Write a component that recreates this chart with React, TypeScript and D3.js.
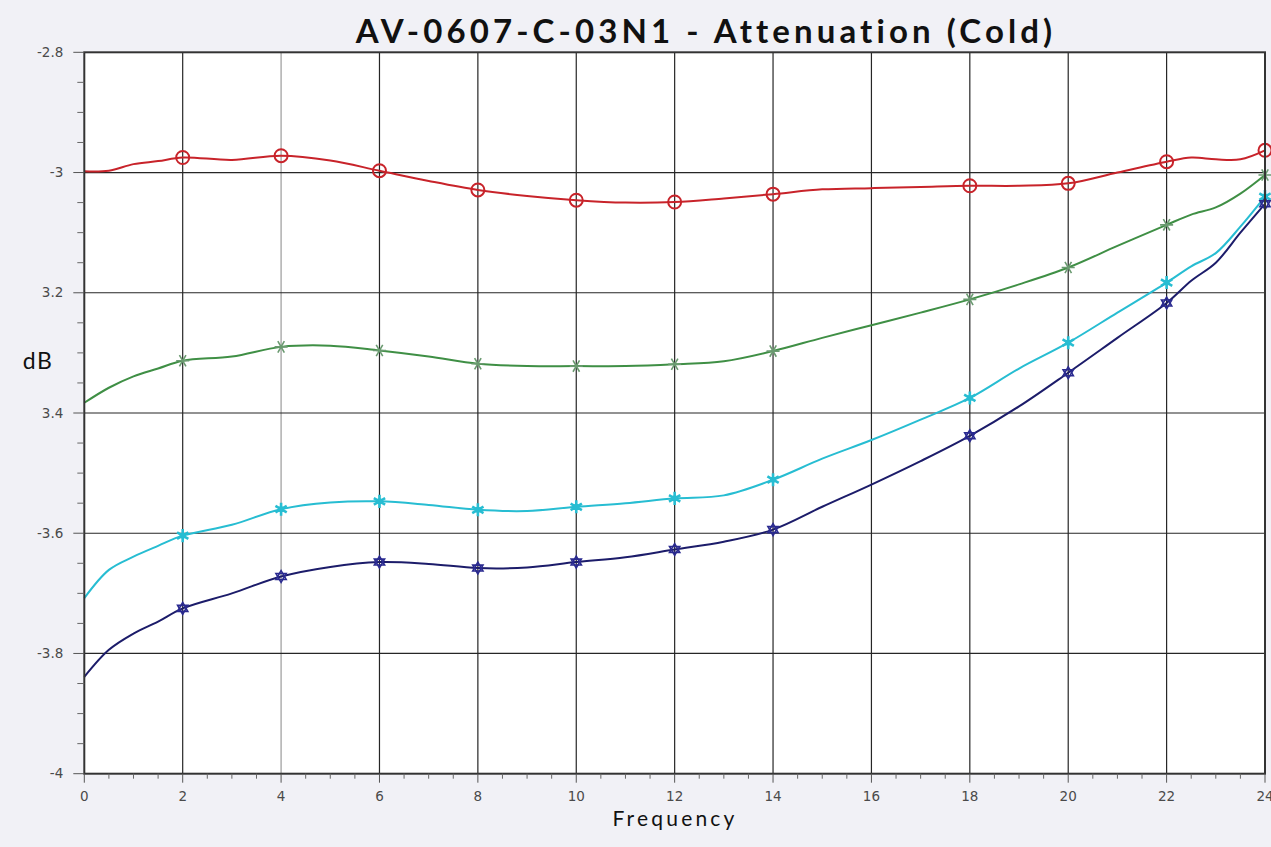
import React from "react";
import * as d3 from "d3";

// Frequency sample points shared by every trace
const freqs = [0, 0.5, 1, 1.5, 2, 3, 4, 5, 6, 7, 8, 9, 10, 11, 12, 13, 14, 15, 16, 17, 18, 19, 20, 21, 22, 22.5, 23, 23.5, 24];

const redValues = [-2.998, -2.997, -2.986, -2.981, -2.975, -2.979, -2.972, -2.98, -2.997, -3.014, -3.029, -3.039, -3.046, -3.05, -3.049, -3.043, -3.036, -3.028, -3.026, -3.024, -3.022, -3.022, -3.018, -3.0, -2.982, -2.975, -2.978, -2.978, -2.963];
const greenValues = [-3.383, -3.358, -3.339, -3.326, -3.313, -3.306, -3.29, -3.288, -3.296, -3.306, -3.318, -3.322, -3.322, -3.322, -3.319, -3.314, -3.297, -3.275, -3.254, -3.233, -3.211, -3.186, -3.158, -3.122, -3.087, -3.07, -3.058, -3.035, -3.004];
const cyanValues = [-3.708, -3.661, -3.639, -3.621, -3.604, -3.586, -3.56, -3.549, -3.547, -3.553, -3.561, -3.563, -3.556, -3.55, -3.542, -3.537, -3.511, -3.476, -3.445, -3.411, -3.375, -3.326, -3.283, -3.233, -3.183, -3.156, -3.134, -3.09, -3.04];
const navyValues = [-3.839, -3.794, -3.767, -3.747, -3.725, -3.7, -3.672, -3.656, -3.648, -3.651, -3.658, -3.657, -3.648, -3.64, -3.627, -3.614, -3.594, -3.556, -3.519, -3.48, -3.438, -3.389, -3.333, -3.275, -3.217, -3.18, -3.15, -3.1, -3.052];

// Frequencies that carry a marker
const markerFreqs = [2, 4, 6, 8, 10, 12, 14, 18, 20, 22, 24];

const xTicks = [0, 2, 4, 6, 8, 10, 12, 14, 16, 18, 20, 22, 24];
const yTicks = [-2.8, -3, -3.2, -3.4, -3.6, -3.8, -4];
const yTickLabels = ["-2.8", "-3", "3.2", "3.4", "-3.6", "-3.8", "-4"];
const lightGridFreqs = [4];

const title = "AV-0607-C-03N1 - Attenuation (Cold)";
const xTitle = "Frequency";
const yTitle = "dB";

const W = 1271;
const H = 847;
const plot = { left: 84.3, right: 1265, top: 52.3, bottom: 773.7 };

type Series = { name: string; values: number[]; color: string; marker: string };

const series: Series[] = [
  { name: "red", values: redValues, color: "#c8232a", marker: "circle" },
  { name: "green", values: greenValues, color: "#3f8f45", marker: "asterisk" },
  { name: "cyan", values: cyanValues, color: "#27bdd2", marker: "star" },
  { name: "navy", values: navyValues, color: "#1c1c6a", marker: "david" },
];

function Marker({ kind, x, y, color }: { kind: string; x: number; y: number; color: string }) {
  if (kind === "circle") {
    return <circle cx={x} cy={y} r={6.5} fill="none" stroke={color} strokeWidth={2} />;
  }
  if (kind === "asterisk") {
    const p = d3.symbol(d3.symbolAsterisk, 120)()!;
    return (
      <path d={p} transform={`translate(${x},${y}) rotate(90)`} fill="none" stroke="#6a9a70" strokeWidth={1.6} />
    );
  }
  if (kind === "star") {
    const p = d3.symbol(d3.symbolAsterisk, 120)()!;
    return (
      <g transform={`translate(${x},${y})`}>
        <path d={p} fill="none" stroke={color} strokeWidth={2.6} />
        <circle r={3} fill={color} />
      </g>
    );
  }
  const tri = d3.symbol(d3.symbolTriangle2, 75)()!;
  return (
    <g transform={`translate(${x},${y})`} fill="none" stroke="#2a2a90" strokeWidth={1.6}>
      <path d={tri} />
      <path d={tri} transform="rotate(180)" />
    </g>
  );
}

export default function App() {
  const x = d3.scaleLinear().domain([0, 24]).range([plot.left, plot.right]);
  const y = d3.scaleLinear().domain([-4, -2.8]).range([plot.bottom, plot.top]);

  const line = d3
    .line<number>()
    .x((_, i) => x(freqs[i]))
    .y((v) => y(v))
    .curve(d3.curveCatmullRom.alpha(0.5));

  const xMinor = d3.range(0, 24.001, 0.5).filter((v) => Math.abs(v % 2) > 1e-6);
  const yMinor = d3.range(-4, -2.799, 0.05).filter((v) => !yTicks.some((t) => Math.abs(t - v) < 1e-6));

  const tickFont = "'DejaVu Sans', Verdana, sans-serif";
  const labelFont = "Lato, 'Open Sans', sans-serif";

  return (
    <svg width={W} height={H} style={{ position: "absolute", left: 0, top: 0 }}>
      <rect x={0} y={0} width={W} height={H} fill="#f1f1f6" />
      <rect x={plot.left} y={plot.top} width={plot.right - plot.left} height={plot.bottom - plot.top} fill="#ffffff" />

      {/* grid */}
      {xTicks.slice(1, -1).map((t) => (
        <line
          key={`gx${t}`}
          x1={x(t)}
          x2={x(t)}
          y1={plot.top}
          y2={plot.bottom}
          stroke={lightGridFreqs.includes(t) ? "#9a9a9a" : "#262626"}
          strokeWidth={1.2}
        />
      ))}
      {yTicks.slice(1, -1).map((t) => (
        <line key={`gy${t}`} x1={plot.left} x2={plot.right} y1={y(t)} y2={y(t)} stroke="#262626" strokeWidth={1.2} />
      ))}

      {/* data traces */}
      {series.map((s) => (
        <path key={s.name} d={line(s.values)!} fill="none" stroke={s.color} strokeWidth={2} />
      ))}
      {series.map((s) =>
        markerFreqs.map((f) => {
          const i = freqs.indexOf(f);
          return <Marker key={`${s.name}${f}`} kind={s.marker} x={x(f)} y={y(s.values[i])} color={s.color} />;
        })
      )}

      {/* frame */}
      <rect
        x={plot.left}
        y={plot.top}
        width={plot.right - plot.left}
        height={plot.bottom - plot.top}
        fill="none"
        stroke="#333333"
        strokeWidth={2}
      />

      {/* y axis ticks */}
      {yTicks.map((t, i) => (
        <g key={`yt${t}`}>
          <line x1={plot.left - 11} x2={plot.left} y1={y(t)} y2={y(t)} stroke="#555" strokeWidth={1} />
          <text x={plot.left - 21} y={y(t)} dy="0.35em" textAnchor="end" fontFamily={tickFont} fontSize={13.5} fill="#4a4a4a">
            {yTickLabels[i]}
          </text>
        </g>
      ))}
      {yMinor.map((t) => (
        <line key={`ym${t}`} x1={plot.left - 7} x2={plot.left} y1={y(t)} y2={y(t)} stroke="#666" strokeWidth={1} />
      ))}

      {/* x axis ticks */}
      {xTicks.map((t) => (
        <g key={`xt${t}`}>
          <line x1={x(t)} x2={x(t)} y1={plot.bottom} y2={plot.bottom + 9} stroke="#555" strokeWidth={1} />
          <text x={x(t)} y={plot.bottom + 22.5} dy="0.35em" textAnchor="middle" fontFamily={tickFont} fontSize={13.5} fill="#4a4a4a">
            {t}
          </text>
        </g>
      ))}
      {xMinor.map((t) => (
        <line key={`xm${t}`} x1={x(t)} x2={x(t)} y1={plot.bottom} y2={plot.bottom + 5} stroke="#666" strokeWidth={1} />
      ))}

      {/* titles */}
      <text x={706} y={43} textAnchor="middle" fontFamily={labelFont} fontWeight={700} fontSize={33} letterSpacing={4.1} fill="#111">
        {title}
      </text>
      <text x={675} y={826} textAnchor="middle" fontFamily={labelFont} fontSize={21} letterSpacing={3.2} fill="#111">
        {xTitle}
      </text>
      <text x={38} y={369} textAnchor="middle" fontFamily={labelFont} fontSize={23} letterSpacing={1.5} fill="#111">
        {yTitle}
      </text>
    </svg>
  );
}
